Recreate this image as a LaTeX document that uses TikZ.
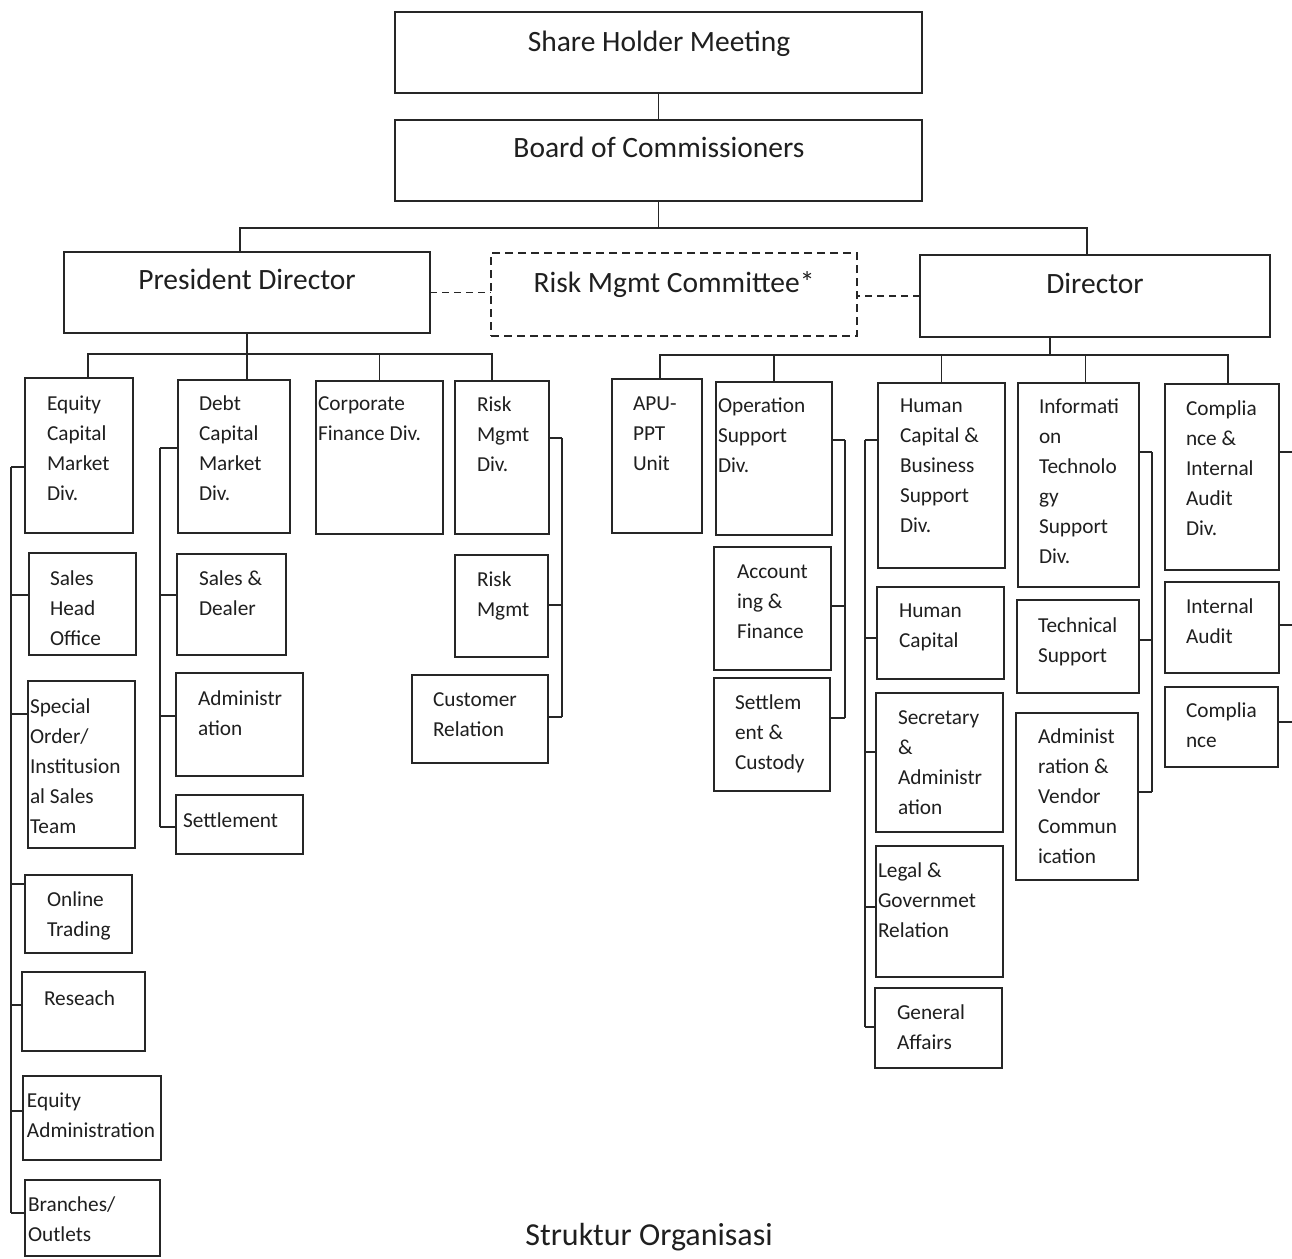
\documentclass[tikz,border=0pt]{standalone}
\usepackage{fontspec}
\setmainfont{Carlito}
\usetikzlibrary{calc}
\tikzset{
  box/.style={draw=black!85, line width=1.5pt, rectangle, inner sep=0pt, outer sep=0pt, anchor=north west},
  dbox/.style={box, dash pattern=on 8pt off 5pt},
  txt/.style={inner sep=0pt, outer sep=0pt, align=left, anchor=north west, yshift=14.5pt,
    font=\fontsize{21.3}{30}\selectfont, text=black!88, execute at begin node={\rule{0pt}{16pt}}},
  ttl/.style={inner sep=0pt, outer sep=0pt, anchor=base, font=\fontsize{29.5}{34}\selectfont, text=black!88},
  conn/.style={draw=black!85, line width=1.4pt},
  dconn/.style={conn, dash pattern=on 7pt off 5pt}
}
% box: name, x1, y1, x2, y2
\newcommand\mkbox[6][box]{\node[#1, minimum width={(#5-#3)*1pt}, minimum height={(#6-#4)*1pt}] (#2) at (#3,#4) {};}
% branch: node, y, side anchor, spine coordinate
\newcommand\mkbranch[4]{\draw[conn] (#1.#3 |- 0,#2) -- (#4 |- 0,#2) coordinate (#1-j);}
\begin{document}
\begin{tikzpicture}[x=1pt,y=-1pt]
\useasboundingbox[fill=white] (0,0) rectangle (1292,1258);

% ---- top level
\mkbox{shm}{395}{12}{922}{93}
\node[ttl] (shm-t) at (659,51) {Share Holder Meeting};
\mkbox{boc}{395}{120}{922}{201}
\node[ttl] (boc-t) at (659,157) {Board of Commissioners};
\mkbox{pd}{64}{252}{430}{333}
\node[ttl] (pd-t) at (247,289) {President Director};
\mkbox[dbox]{rmc}{491}{253}{857}{336}
\node[ttl] (rmc-t) at (674,292) {Risk Mgmt Committee*};
\mkbox{dir}{920}{255}{1270}{337}
\node[ttl] (dir-t) at (1095,293) {Director};

% ---- president director side
\mkbox{eq}{25}{378}{133}{533}
\node[txt] (eq-t) at (47,410) {Equity\\Capital\\Market\\Div.};
\mkbox{debt}{178}{380}{290}{533}
\node[txt] (debt-t) at (199,410) {Debt\\Capital\\Market\\Div.};
\mkbox{corp}{316}{381}{443}{534}
\node[txt] (corp-t) at (318,411) {Corporate\\Finance Div.};
\mkbox{rmd}{455}{381}{549}{534}
\node[txt] (rmd-t) at (477,411) {Risk\\Mgmt\\Div.};
\mkbox{sho}{29}{553}{136}{655}
\node[txt] (sho-t) at (50,585) {Sales\\Head\\Office};
\mkbox{sd}{177}{554}{286}{655}
\node[txt] (sd-t) at (199,585) {Sales \&\\Dealer};
\mkbox{rm}{455}{555}{548}{657}
\node[txt] (rm-t) at (477,586) {Risk\\Mgmt};
\mkbox{spec}{28}{681}{135}{848}
\node[txt] (spec-t) at (30,713) {Special\\Order/\\Institusion\\al Sales\\Team};
\mkbox{adm}{176}{673}{303}{776}
\node[txt] (adm-t) at (198,705) {Administr\\ation};
\mkbox{cr}{412}{675}{548}{763}
\node[txt] (cr-t) at (433,707) {Customer\\Relation};
\mkbox{settl}{176}{795}{303}{854}
\node[txt] (settl-t) at (183,826) {Settlement};
\mkbox{online}{25}{875}{132}{953}
\node[txt] (online-t) at (47,906) {Online\\Trading};
\mkbox{res}{22}{972}{145}{1051}
\node[txt] (res-t) at (44,1004) {Reseach};
\mkbox{eqadm}{23}{1076}{161}{1160}
\node[txt] (eqadm-t) at (27,1107) {Equity\\Administration};
\mkbox{br}{25}{1180}{160}{1256}
\node[txt] (br-t) at (28,1211) {Branches/\\Outlets};

% ---- director side
\mkbox{apu}{612}{379}{702}{533}
\node[txt] (apu-t) at (633,411) {APU-\\PPT\\Unit};
\mkbox{ops}{716}{382}{832}{535}
\node[txt] (ops-t) at (718,412) {Operation\\Support\\Div.};
\mkbox{acc}{714}{547}{831}{670}
\node[txt] (acc-t) at (737,579) {Account\\ing \&\\Finance};
\mkbox{sc}{714}{678}{830}{791}
\node[txt] (sc-t) at (735,709) {Settlem\\ent \&\\Custody};
\mkbox{hcb}{878}{383}{1005}{568}
\node[txt] (hcb-t) at (900,413) {Human\\Capital \&\\Business\\Support\\Div.};
\mkbox{hc}{877}{587}{1004}{679}
\node[txt] (hc-t) at (899,618) {Human\\Capital};
\mkbox{sec}{876}{693}{1003}{832}
\node[txt] (sec-t) at (898,725) {Secretary\\\&\\Administr\\ation};
\mkbox{legal}{876}{846}{1003}{977}
\node[txt] (legal-t) at (878,877) {Legal \&\\Governmet\\Relation};
\mkbox{ga}{875}{988}{1002}{1068}
\node[txt] (ga-t) at (897,1019) {General\\Affairs};
\mkbox{it}{1018}{383}{1139}{587}
\node[txt] (it-t) at (1039,413) {Informati\\on\\Technolo\\gy\\Support\\Div.};
\mkbox{ts}{1017}{600}{1139}{693}
\node[txt] (ts-t) at (1038,632) {Technical\\Support};
\mkbox{avc}{1016}{713}{1138}{880}
\node[txt] (avc-t) at (1038,743) {Administ\\ration \&\\Vendor\\Commun\\ication};
\mkbox{cia}{1165}{384}{1279}{570}
\node[txt] (cia-t) at (1186,415) {Complia\\nce \&\\Internal\\Audit\\Div.};
\mkbox{ia}{1165}{582}{1279}{673}
\node[txt] (ia-t) at (1186,613) {Internal\\Audit};
\mkbox{comp}{1165}{687}{1278}{767}
\node[txt] (comp-t) at (1186,717) {Complia\\nce};

% ---- caption
\node[ttl, font=\fontsize{32}{36}\selectfont] (cap) at (649,1245) {Struktur Organisasi};

% ---- top connectors
\draw[conn] (shm.south) -- (boc.north);
\coordinate (tbus) at (653,228);
\draw[conn] (boc.south) -- (boc.south |- tbus);
\draw[conn] ([xshift=-7pt]pd.north) |- (tbus) -| ([xshift=-8pt]dir.north);
\draw[dconn] (pd.east) -- (pd.east -| rmc.west);
\draw[dconn] (dir.west) -- (dir.west -| rmc.east);

% ---- president bus
\coordinate (pbus) at (247,354);
\draw[conn] (pd.south) -- (pd.south |- debt.north);
\draw[conn] ([xshift=9pt]eq.north) |- (pbus) -| ([xshift=-10pt]rmd.north);
\draw[conn] (corp.north) -- (corp.north |- pbus);

% ---- director bus
\coordinate (dbus) at (1050,355);
\draw[conn] (dbus) -- (dbus |- dir.south);
\draw[conn] ([xshift=3pt]apu.north) |- (dbus) -| ([xshift=6pt]cia.north);
\draw[conn] (ops.north) -- (ops.north |- dbus);
\draw[conn] (hcb.north) -- (hcb.north |- dbus);
\draw[conn] ([xshift=7pt]it.north) -- ([xshift=7pt]it.north |- dbus);

% ---- spines
\coordinate (eqsp) at (11,0);
\mkbranch{eq}{467}{west}{eqsp}
\mkbranch{sho}{595}{west}{eqsp}
\mkbranch{spec}{714}{west}{eqsp}
\mkbranch{online}{884}{west}{eqsp}
\mkbranch{res}{1005}{west}{eqsp}
\mkbranch{eqadm}{1111}{west}{eqsp}
\mkbranch{br}{1213}{west}{eqsp}
\draw[conn] (eq-j) -- (br-j);

\coordinate (dbsp) at (160,0);
\mkbranch{debt}{448}{west}{dbsp}
\mkbranch{sd}{595}{west}{dbsp}
\mkbranch{adm}{716}{west}{dbsp}
\mkbranch{settl}{827}{west}{dbsp}
\draw[conn] (debt-j) -- (settl-j);

\coordinate (rksp) at (562,0);
\mkbranch{rmd}{438}{east}{rksp}
\mkbranch{rm}{605}{east}{rksp}
\mkbranch{cr}{717}{east}{rksp}
\draw[conn] (rmd-j) -- (cr-j);

\coordinate (opsp) at (845,0);
\mkbranch{ops}{440}{east}{opsp}
\mkbranch{acc}{606}{east}{opsp}
\mkbranch{sc}{718}{east}{opsp}
\draw[conn] (ops-j) -- (sc-j);

\coordinate (hcsp) at (865,0);
\mkbranch{hcb}{440}{west}{hcsp}
\mkbranch{hc}{638}{west}{hcsp}
\mkbranch{sec}{752}{west}{hcsp}
\mkbranch{legal}{907}{west}{hcsp}
\mkbranch{ga}{1027}{west}{hcsp}
\draw[conn] (hcb-j) -- (ga-j);

\coordinate (itsp) at (1152,0);
\mkbranch{it}{452}{east}{itsp}
\mkbranch{ts}{640}{east}{itsp}
\mkbranch{avc}{792}{east}{itsp}
\draw[conn] (it-j) -- (avc-j);

\coordinate (cpsp) at (1292,0);
\mkbranch{cia}{452}{east}{cpsp}
\mkbranch{ia}{625}{east}{cpsp}
\mkbranch{comp}{722}{east}{cpsp}
\end{tikzpicture}
\end{document}
